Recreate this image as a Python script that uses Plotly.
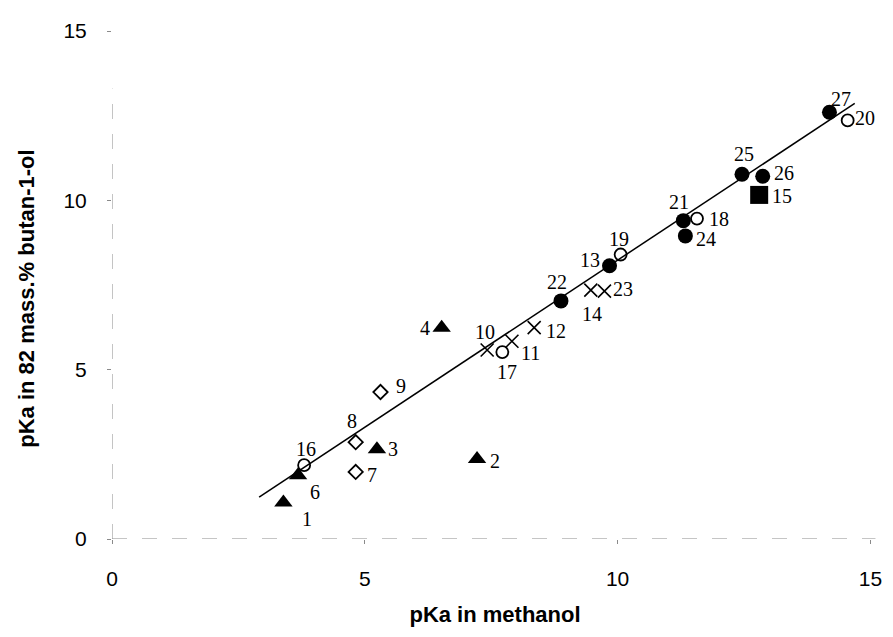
import plotly.graph_objects as go

# ---- data ----
tri_labels = ["1", "2", "3", "4", "6"]
tri_x = [3.39, 7.22, 5.24, 6.52, 3.68]
tri_y = [1.08, 2.36, 2.65, 6.24, 1.88]

dia_labels = ["7", "8", "9"]
dia_x = [4.82, 4.82, 5.31]
dia_y = [1.98, 2.86, 4.34]

cross_labels = ["10", "11", "12", "14", "23"]
cross_x = [7.42, 7.91, 8.35, 9.47, 9.74]
cross_y = [5.58, 5.84, 6.24, 7.35, 7.32]

open_labels = ["16", "17", "18", "19", "20"]
open_x = [3.80, 7.72, 11.57, 10.06, 14.55]
open_y = [2.18, 5.52, 9.46, 8.40, 12.36]

fill_labels = ["13", "21", "22", "24", "25", "26", "27"]
fill_x = [9.84, 11.30, 8.88, 11.34, 12.46, 12.87, 14.19]
fill_y = [8.07, 9.40, 7.03, 8.95, 10.77, 10.71, 12.60]

sq_labels = ["15"]
sq_x = [12.80]
sq_y = [10.16]

fit_x = [2.91, 14.69]
fit_y = [1.24, 12.86]

x_ticks = [0, 5, 10, 15]
y_ticks = [0, 5, 10, 15]

x_title = "pKa in methanol"
y_title = "pKa in 82 mass.% butan-1-ol"

# ---- label offsets (pixels: dx right, dy down) ----
offsets = {
    "1": (24, 17), "2": (18, 2), "3": (16, 0), "4": (-17, 0), "6": (17, 17),
    "7": (16, 3), "8": (-4, -21), "9": (21, -6),
    "10": (-2, -18), "11": (19, 12), "12": (22, 3), "14": (1, 24), "23": (19, -2),
    "16": (2, -16), "17": (5, 20), "18": (22, 0), "19": (-2, -16), "20": (17, -2),
    "13": (-20, -6), "21": (-4, -19), "22": (-4, -19), "24": (21, 3), "25": (2, -20),
    "26": (21, -3), "27": (12, -13), "15": (23, 1),
}

fig = go.Figure()

fig.add_trace(go.Scatter(x=fit_x, y=fit_y, mode="lines",
                         line=dict(color="black", width=1.5), hoverinfo="skip"))

groups = [
    (tri_x, tri_y, dict(symbol="triangle-up", size=16, color="black")),
    (dia_x, dia_y, dict(symbol="diamond-open", size=11, color="black", line=dict(width=1.8, color="black"))),
    (cross_x, cross_y, dict(symbol="x-thin", size=13, color="black", line=dict(width=1.6, color="black"))),
    (open_x, open_y, dict(symbol="circle-open", size=12, color="black", line=dict(width=1.8, color="black"))),
    (fill_x, fill_y, dict(symbol="circle", size=15, color="black")),
    (sq_x, sq_y, dict(symbol="square", size=18, color="black")),
]
for gx, gy, mk in groups:
    fig.add_trace(go.Scatter(x=gx, y=gy, mode="markers", marker=mk))

for labs, lx, ly in [(tri_labels, tri_x, tri_y), (dia_labels, dia_x, dia_y),
                     (cross_labels, cross_x, cross_y), (open_labels, open_x, open_y),
                     (fill_labels, fill_x, fill_y), (sq_labels, sq_x, sq_y)]:
    for t, xv, yv in zip(labs, lx, ly):
        dx, dy = offsets[t]
        fig.add_annotation(x=xv, y=yv, text=t, showarrow=False,
                           xshift=dx, yshift=-dy,
                           font=dict(family="Liberation Serif", size=20, color="black"))

# y-axis title as rotated annotation
fig.add_annotation(xref="paper", yref="paper", x=0, y=0.473, xshift=-85,
                   text="<b>" + y_title + "</b>", textangle=-90, showarrow=False,
                   xanchor="center", yanchor="middle",
                   font=dict(family="Liberation Sans", size=22, color="black"))

axis_col = "#8a8a8a"
# axis lines
fig.add_shape(type="line", xref="x", yref="y", x0=0, x1=0, y0=0, y1=13.3,
              line=dict(color=axis_col, width=1, dash="longdash"))
fig.add_shape(type="line", xref="x", yref="y", x0=0, x1=15.1, y0=0, y1=0,
              line=dict(color=axis_col, width=1, dash="longdash"))

fig.update_layout(
    width=885, height=629,
    margin=dict(l=104, r=11, t=13, b=98),
    plot_bgcolor="white", paper_bgcolor="white",
    showlegend=False,
    xaxis=dict(range=[0, 15.15], tickvals=x_ticks, ticktext=[str(v) for v in x_ticks],
               showgrid=False, zeroline=False, showline=False,
               ticks="outside", ticklen=4, tickcolor=axis_col,
               ticklabelstandoff=17,
               tickfont=dict(family="Liberation Sans", size=21, color="black"),
               title=dict(text="<b>" + x_title + "</b>", standoff=17,
                          font=dict(family="Liberation Sans", size=22, color="black"))),
    yaxis=dict(range=[0, 15], tickvals=y_ticks, ticktext=[str(v) for v in y_ticks],
               showgrid=False, zeroline=False, showline=False,
               ticks="outside", ticklen=4, tickcolor=axis_col,
               ticklabelstandoff=16,
               tickfont=dict(family="Liberation Sans", size=21, color="black")),
)

fig.write_html("out.html")
